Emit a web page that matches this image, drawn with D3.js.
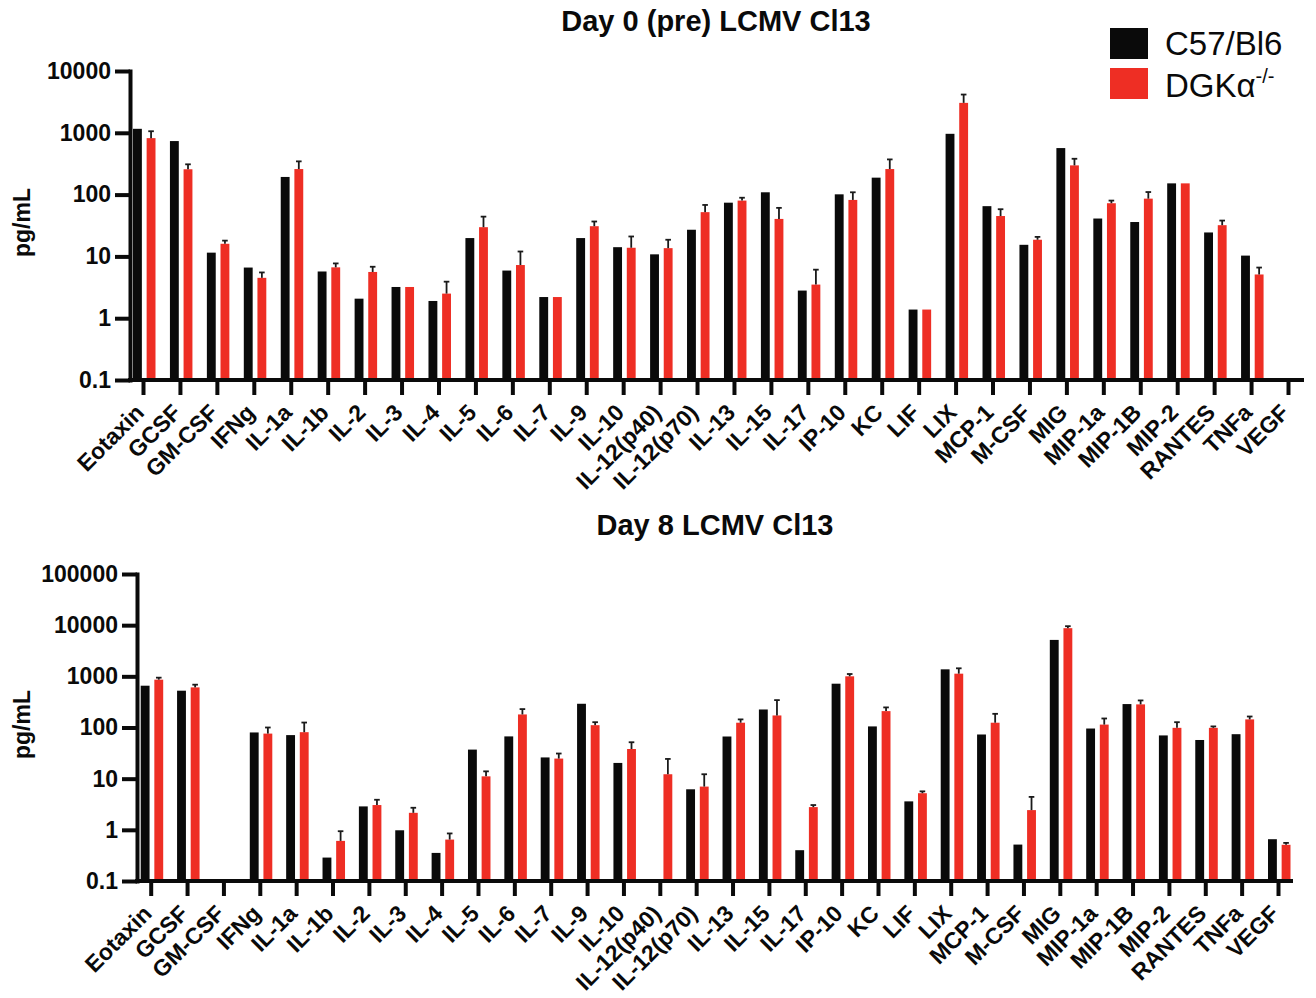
<!DOCTYPE html>
<html>
<head>
<meta charset="utf-8">
<script src="https://cdn.jsdelivr.net/npm/d3@7"></script>
<style>
  html, body { margin: 0; padding: 0; background: #fff; }
  svg { display: block; }
  text { font-family: "Liberation Sans", Arial, Helvetica, sans-serif; fill: #0a0a0a; }
</style>
</head>
<body>
<div id="chart"></div>
<script>
/* ── data (pg/mL; null = no bar) ──────────────────────────────────── */
const cytokines = ['Eotaxin', 'GCSF', 'GM-CSF', 'IFNg', 'IL-1a', 'IL-1b', 'IL-2', 'IL-3', 'IL-4',
  'IL-5', 'IL-6', 'IL-7', 'IL-9', 'IL-10', 'IL-12(p40)', 'IL-12(p70)', 'IL-13', 'IL-15', 'IL-17',
  'IP-10', 'KC', 'LIF', 'LIX', 'MCP-1', 'M-CSF', 'MIG', 'MIP-1a', 'MIP-1B', 'MIP-2', 'RANTES',
  'TNFa', 'VEGF'];

const groups = ['C57/Bl6', 'DGKα'];

/* day 0 */
const day0Wt = [1160, 735, 11.5, 6.6, 193, 5.7, 2.07, 3.2, 1.9, 19.8, 5.9, 2.2, 19.8, 14.1, 10.8,
  27, 74, 109, 2.8, 101, 188, 1.38, 963, 65, 15.4, 566, 41, 36, 152, 24.4, 10.3, null];
const day0Ko = [820, 257, 16, 4.5, 259, 6.65, 5.6, 3.2, 2.5, 29.7, 7.25, 2.2, 30.8, 13.8, 13.6,
  52, 80, 40.4, 3.5, 82, 259, 1.38, 3050, 45, 18.6, 297, 72.5, 86, 152, 32, 5.1, null];
const day0KoErr = [1060, 309, 18, 5.5, 345, 7.7, 6.8, null, 3.9, 44, 12, null, 36.7, 21, 18.6,
  68, 89, 61, 6.1, 109, 371, null, 4160, 58, 20.7, 380, 80, 110, null, 38, 6.6, null];

/* day 8 */
const day8Wt = [656, 524, null, 80, 71, 0.287, 2.87, 0.98, 0.354, 37, 67, 26, 291, 20.3, null,
  6.2, 66.7, 225, 0.40, 718, 105, 3.6, 1370, 73, 0.515, 5150, 95.5, 287, 70, 57, 74, 0.656];
const day8Ko = [861, 608, null, 76, 81, 0.608, 3.05, 2.15, 0.645, 11.1, 180, 24.7, 111, 38, 12.2,
  7.0, 124, 172, 2.78, 1000, 209, 5.2, 1127, 124, 2.43, 8730, 114, 283, 98.5, 98.5, 144, 0.51];
const day8KoErr = [942, 687, null, 100, 125, 0.94, 3.87, 2.7, 0.85, 13.9, 229, 31, 127, 51.5, 24.3,
  12.2, 144, 343, 3.05, 1110, 247, 5.65, 1435, 185, 4.4, 9550, 150, 338, 127, 105, 164, 0.556];

const ticksDay0 = [0.1, 1, 10, 100, 1000, 10000];
const ticksDay8 = [0.1, 1, 10, 100, 1000, 10000, 100000];

/* ── setup ───────────────────────────────────────────────────────── */
const W = 1316, H = 998;
const INK = '#0a0a0a', RED = '#ee2e24';
const FONT = '"Liberation Sans", Arial, sans-serif';
const svg = d3.select('#chart').append('svg')
  .attr('width', W).attr('height', H).attr('viewBox', `0 0 ${W} ${H}`);

/* one panel: title, log y axis, category x axis, paired bars */
function drawPanel(p) {
  const g = svg.append('g');

  const y = d3.scaleLog().domain([0.1, p.ticks[p.ticks.length - 1]]).range([p.axisY, p.topY]);
  const x = d3.scalePoint().domain(cytokines).range([p.xFirst, p.xLast]);
  const sub = d3.scaleBand().domain(groups).range([-10, 12.5]).paddingInner(0.35);

  /* title */
  g.append('text')
    .attr('x', p.titleX).attr('y', p.titleY)
    .attr('text-anchor', 'middle')
    .attr('font-size', 29).attr('font-weight', 'bold')
    .text(p.title);

  /* bars */
  const rows = cytokines.map((c, i) => ({ c, wt: p.wt[i], ko: p.ko[i], err: p.err[i] }));
  const bw = sub.bandwidth();

  g.selectAll('.bar-wt')
    .data(rows.filter(d => d.wt != null)).join('rect')
    .attr('class', 'bar-wt')
    .attr('x', d => x(d.c) + sub(groups[0]))
    .attr('y', d => y(d.wt))
    .attr('width', bw)
    .attr('height', d => p.axisY - y(d.wt))
    .attr('fill', INK);

  g.selectAll('.bar-ko')
    .data(rows.filter(d => d.ko != null)).join('rect')
    .attr('class', 'bar-ko')
    .attr('x', d => x(d.c) + sub(groups[1]))
    .attr('y', d => y(d.ko))
    .attr('width', bw)
    .attr('height', d => p.axisY - y(d.ko))
    .attr('fill', RED);

  /* error bars (upper only, KO group) */
  const eb = g.selectAll('.err')
    .data(rows.filter(d => d.err != null)).join('g')
    .attr('class', 'err')
    .attr('transform', d => `translate(${x(d.c) + sub(groups[1]) + bw / 2},0)`)
    .attr('stroke', '#1a1a1a').attr('stroke-width', 1.8);
  eb.append('line').attr('x1', 0).attr('x2', 0)
    .attr('y1', d => y(d.ko)).attr('y2', d => y(d.err));
  eb.append('line').attr('x1', -2.8).attr('x2', 2.8)
    .attr('y1', d => y(d.err)).attr('y2', d => y(d.err));

  /* y axis */
  const ya = g.append('g')
    .attr('transform', `translate(${p.yAxisX},0)`)
    .call(d3.axisLeft(y).tickValues(p.ticks).tickFormat(d => String(d))
      .tickSize(15).tickSizeOuter(0).tickPadding(4));
  ya.select('.domain').attr('stroke', INK).attr('stroke-width', 4).attr('stroke-linecap', 'square');
  ya.selectAll('.tick line').attr('stroke', INK).attr('stroke-width', 4);
  ya.selectAll('.tick text')
    .attr('font-family', FONT)
    .attr('font-size', 23).attr('font-weight', 'bold').attr('fill', INK);

  /* x axis */
  const xa = g.append('g')
    .attr('transform', `translate(0,${p.axisY})`)
    .call(d3.axisBottom(x).tickSize(15).tickSizeOuter(0));
  xa.select('.domain').remove();
  xa.selectAll('.tick line').attr('stroke', INK).attr('stroke-width', 4);
  xa.selectAll('.tick text')
    .attr('font-family', FONT)
    .attr('font-size', 23).attr('font-weight', 'bold').attr('fill', INK)
    .attr('text-anchor', 'end')
    .attr('y', 0).attr('dy', 0)
    .attr('transform', 'translate(2,34) rotate(-45)');
  g.append('line')
    .attr('x1', p.yAxisX - 2).attr('x2', p.xEnd)
    .attr('y1', p.axisY).attr('y2', p.axisY)
    .attr('stroke', INK).attr('stroke-width', 4);

  /* y label */
  g.append('text')
    .attr('transform', `translate(${p.labelX},${(p.axisY + p.topY) / 2 - 3}) rotate(-90)`)
    .attr('text-anchor', 'middle')
    .attr('font-size', 23).attr('font-weight', 'bold')
    .text('pg/mL');
}

drawPanel({
  title: 'Day 0 (pre) LCMV Cl13', titleX: 716, titleY: 31,
  wt: day0Wt, ko: day0Ko, err: day0KoErr, ticks: ticksDay0,
  yAxisX: 130, axisY: 380, topY: 71, xFirst: 143, xLast: 1288, xEnd: 1304, labelX: 30
});

drawPanel({
  title: 'Day 8 LCMV Cl13', titleX: 715, titleY: 535,
  wt: day8Wt, ko: day8Ko, err: day8KoErr, ticks: ticksDay8,
  yAxisX: 137, axisY: 881, topY: 574, xFirst: 150.7, xLast: 1278, xEnd: 1293, labelX: 30
});

/* ── legend ──────────────────────────────────────────────────────── */
const leg = svg.append('g').attr('transform', 'translate(1110,28)');
[INK, RED].forEach((col, i) => {
  leg.append('rect').attr('x', 0).attr('y', i * 40).attr('width', 38).attr('height', 31).attr('fill', col);
});
leg.append('text').attr('x', 55).attr('y', 27).attr('font-size', 33).text(groups[0]);
const ko = leg.append('text').attr('x', 55).attr('y', 69).attr('font-size', 33);
ko.append('tspan').text(groups[1]);
ko.append('tspan').attr('font-size', 20).attr('dy', -14).text('-/-');
</script>
</body>
</html>
